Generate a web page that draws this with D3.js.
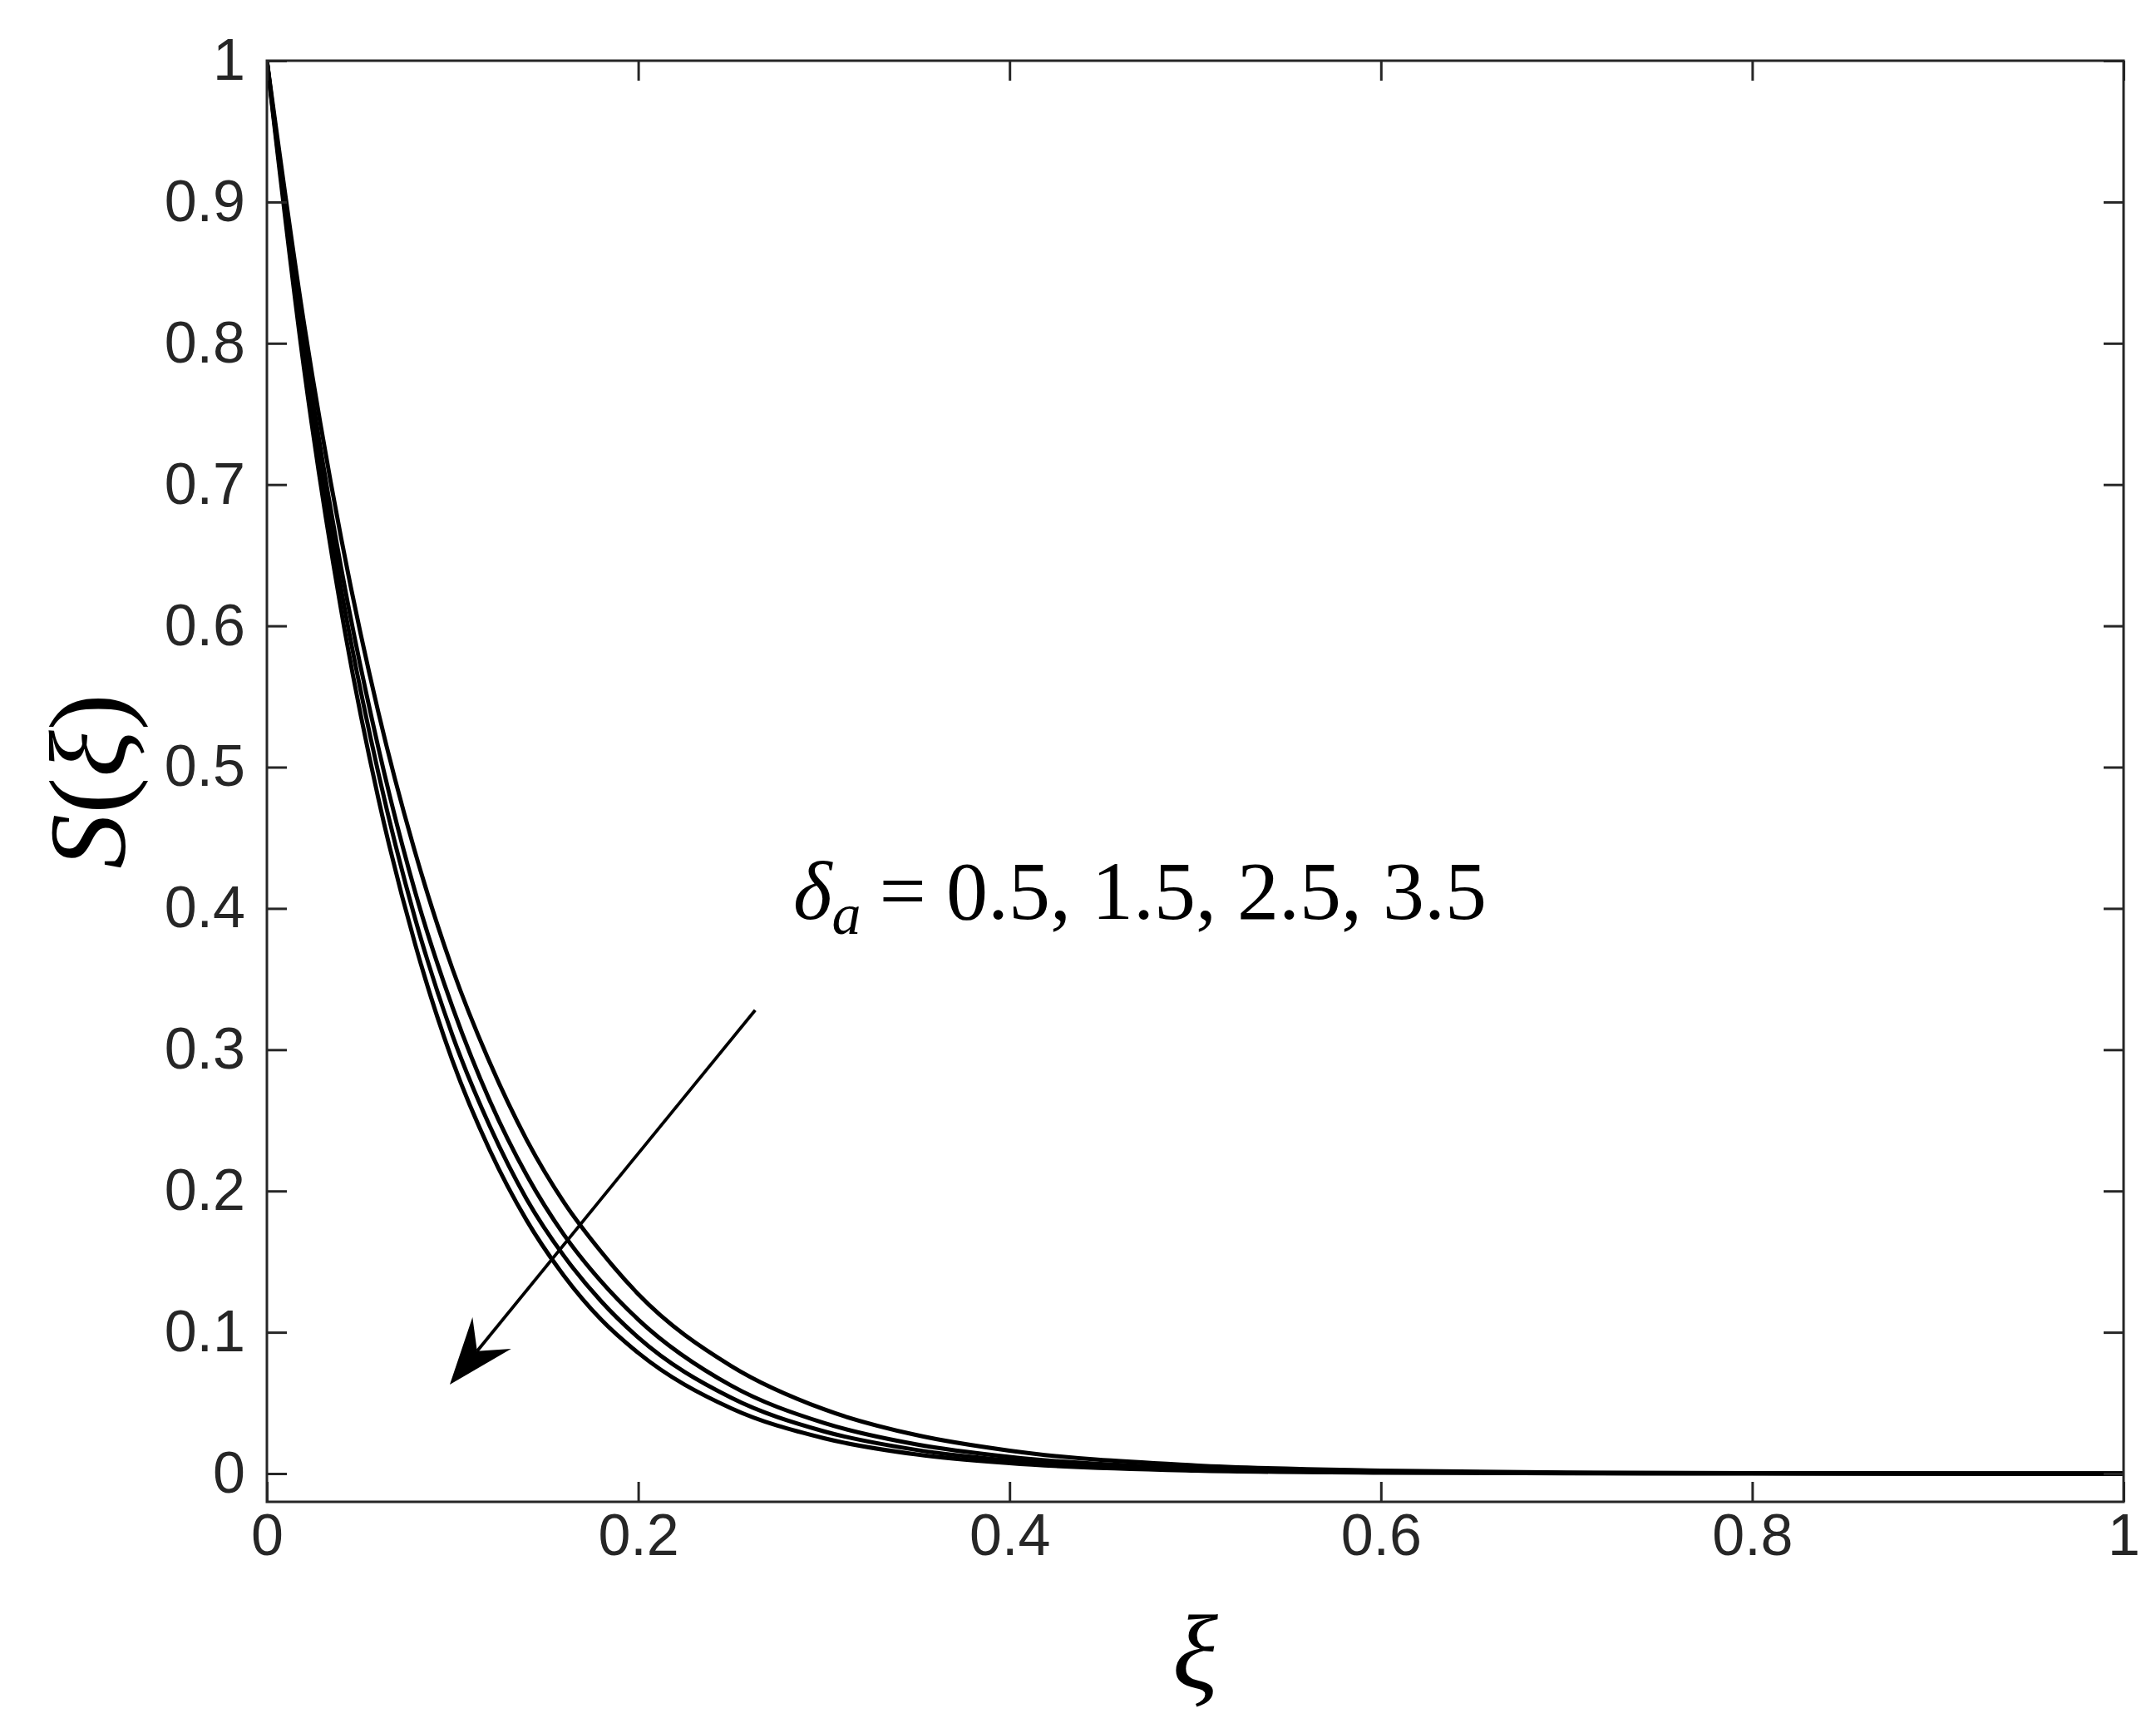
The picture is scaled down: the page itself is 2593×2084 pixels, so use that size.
<!DOCTYPE html>
<html>
<head>
<meta charset="utf-8">
<script src="https://cdn.jsdelivr.net/npm/d3@7"></script>
<style>
  html, body { margin: 0; padding: 0; background: #fff; }
  svg { display: block; }
</style>
</head>
<body>
<script>
// ---------- data ----------
const xi = [0, 0.02, 0.04, 0.06, 0.08, 0.10, 0.12, 0.14, 0.16, 0.18, 0.20, 0.25, 0.30, 0.35, 0.40, 0.50, 0.60, 0.70, 0.80, 1.00];
const deltaA = [0.5, 1.5, 2.5, 3.5];
const S_d05 = [1, 0.814, 0.662, 0.539, 0.439, 0.357, 0.291, 0.236, 0.192, 0.157, 0.127, 0.0762, 0.0455, 0.0272, 0.0162, 0.0058, 0.0021, 0.0007, 0.0003, 0.0000];
const S_d15 = [1, 0.801, 0.641, 0.514, 0.411, 0.330, 0.264, 0.211, 0.169, 0.136, 0.109, 0.0623, 0.0358, 0.0206, 0.0118, 0.0039, 0.0013, 0.0004, 0.0001, 0.0000];
const S_d25 = [1, 0.791, 0.626, 0.496, 0.392, 0.310, 0.246, 0.194, 0.154, 0.122, 0.0963, 0.0537, 0.0299, 0.0167, 0.0093, 0.0029, 0.0009, 0.0003, 0.0001, 0.0000];
const S_d35 = [1, 0.782, 0.611, 0.478, 0.374, 0.292, 0.229, 0.179, 0.140, 0.109, 0.0854, 0.0462, 0.0250, 0.0135, 0.0073, 0.0021, 0.0006, 0.0002, 0.0001, 0.0000];
const series = [S_d05, S_d15, S_d25, S_d35];
const xTicks = [0, 0.2, 0.4, 0.6, 0.8, 1];
const xTickLabels = ["0", "0.2", "0.4", "0.6", "0.8", "1"];
const yTicks = [0, 0.1, 0.2, 0.3, 0.4, 0.5, 0.6, 0.7, 0.8, 0.9, 1];
const yTickLabels = ["0", "0.1", "0.2", "0.3", "0.4", "0.5", "0.6", "0.7", "0.8", "0.9", "1"];
const arrowFrom = [0.263, 0.328];
const arrowTo = [0.0985, 0.063];
const annotPos = [0.2835, 0.3926];
const annotValues = "0.5, 1.5, 2.5, 3.5";

// ---------- layout ----------
const W = 2593, H = 2084;
const mLeft = 321, mRight = 2554, mTop = 73, mBottom = 1806;
const axisColor = "#262626";
const tickLen = 24;

const svg = d3.select("body").append("svg").attr("width", W).attr("height", H);
svg.append("rect").attr("width", W).attr("height", H).attr("fill", "#fff");

const x = d3.scaleLinear().domain([0, 1]).range([mLeft, mRight]);
const y = d3.scaleLinear().domain([-0.02, 1]).range([mBottom, mTop]);

// curves
const line = d3.line()
  .x((d, i) => x(xi[i]))
  .y(d => y(d))
  .curve(d3.curveMonotoneX);

svg.append("clipPath").attr("id", "clip")
  .append("rect").attr("x", mLeft).attr("y", mTop).attr("width", mRight - mLeft).attr("height", mBottom - mTop);

svg.append("g").attr("clip-path", "url(#clip)")
  .selectAll("path").data(series).join("path")
  .attr("d", d => line(d))
  .attr("fill", "none").attr("stroke", "#000").attr("stroke-width", 5)
  .attr("stroke-linejoin", "round");

// axes
const fontTicks = "'Liberation Sans', Arial, Helvetica, sans-serif";
function styleAxis(g) {
  g.selectAll(".domain").remove();
  g.selectAll(".tick line").attr("stroke", axisColor).attr("stroke-width", 3);
  g.selectAll(".tick text").attr("fill", axisColor).style("font-family", fontTicks).style("font-size", "70px");
}
const xb = svg.append("g").attr("transform", `translate(0,${mBottom})`)
  .call(d3.axisBottom(x).tickValues(xTicks).tickFormat((d, i) => xTickLabels[i]).tickSizeInner(-tickLen).tickSizeOuter(0).tickPadding(14));
styleAxis(xb);
const xt = svg.append("g").attr("transform", `translate(0,${mTop})`)
  .call(d3.axisTop(x).tickValues(xTicks).tickFormat("").tickSizeInner(-tickLen).tickSizeOuter(0));
styleAxis(xt);
const yl = svg.append("g").attr("transform", `translate(${mLeft},0)`)
  .call(d3.axisLeft(y).tickValues(yTicks).tickFormat((d, i) => yTickLabels[i]).tickSizeInner(-tickLen).tickSizeOuter(0).tickPadding(26));
styleAxis(yl);
const yr = svg.append("g").attr("transform", `translate(${mRight},0)`)
  .call(d3.axisRight(y).tickValues(yTicks).tickFormat("").tickSizeInner(-tickLen).tickSizeOuter(0));
styleAxis(yr);

// box
svg.append("rect").attr("x", mLeft).attr("y", mTop).attr("width", mRight - mLeft).attr("height", mBottom - mTop)
  .attr("fill", "none").attr("stroke", axisColor).attr("stroke-width", 3);

// axis labels
const serif = "'Liberation Serif', 'Times New Roman', serif";
svg.append("text").attr("x", (mLeft + mRight) / 2).attr("y", 2030)
  .attr("text-anchor", "middle").style("font-family", serif).style("font-style", "italic")
  .style("font-size", "128px").attr("fill", "#000").text("ξ");

svg.append("text").attr("transform", `translate(150,${(mTop + mBottom) / 2}) rotate(-90)`)
  .attr("text-anchor", "middle").style("font-family", serif).style("font-size", "132px").attr("fill", "#000")
  .call(t => {
    t.append("tspan").style("font-style", "italic").text("S");
    t.append("tspan").text("(");
    t.append("tspan").style("font-style", "italic").text("ξ");
    t.append("tspan").text(")");
  });

// annotation
const ann = svg.append("text").attr("x", x(annotPos[0])).attr("y", y(annotPos[1]))
  .style("font-family", serif).style("font-size", "100px").attr("fill", "#000");
ann.append("tspan").style("font-style", "italic").text("δ");
ann.append("tspan").style("font-style", "italic").style("font-size", "70px").attr("dy", 18).text("a");
ann.append("tspan").attr("dy", -18).attr("dx", 22).text("=");
ann.append("tspan").attr("dx", 24).text(annotValues);

// arrow
const x0 = x(arrowFrom[0]), y0 = y(arrowFrom[1]), x1 = x(arrowTo[0]), y1 = y(arrowTo[1]);
const dx = x1 - x0, dy = y1 - y0, L = Math.hypot(dx, dy);
const ux = dx / L, uy = dy / L, px = -uy, py = ux;
const headLen = 80, headW = 30, notch = 52;
svg.append("line").attr("x1", x0).attr("y1", y0)
  .attr("x2", x1 - ux * notch).attr("y2", y1 - uy * notch)
  .attr("stroke", "#000").attr("stroke-width", 3.8);
const bx = x1 - ux * headLen, by = y1 - uy * headLen;
const pts = [
  [x1, y1],
  [bx + px * headW, by + py * headW],
  [x1 - ux * notch, y1 - uy * notch],
  [bx - px * headW, by - py * headW]
];
svg.append("path").attr("d", "M" + pts.map(p => p.join(",")).join("L") + "Z").attr("fill", "#000");
</script>
</body>
</html>
